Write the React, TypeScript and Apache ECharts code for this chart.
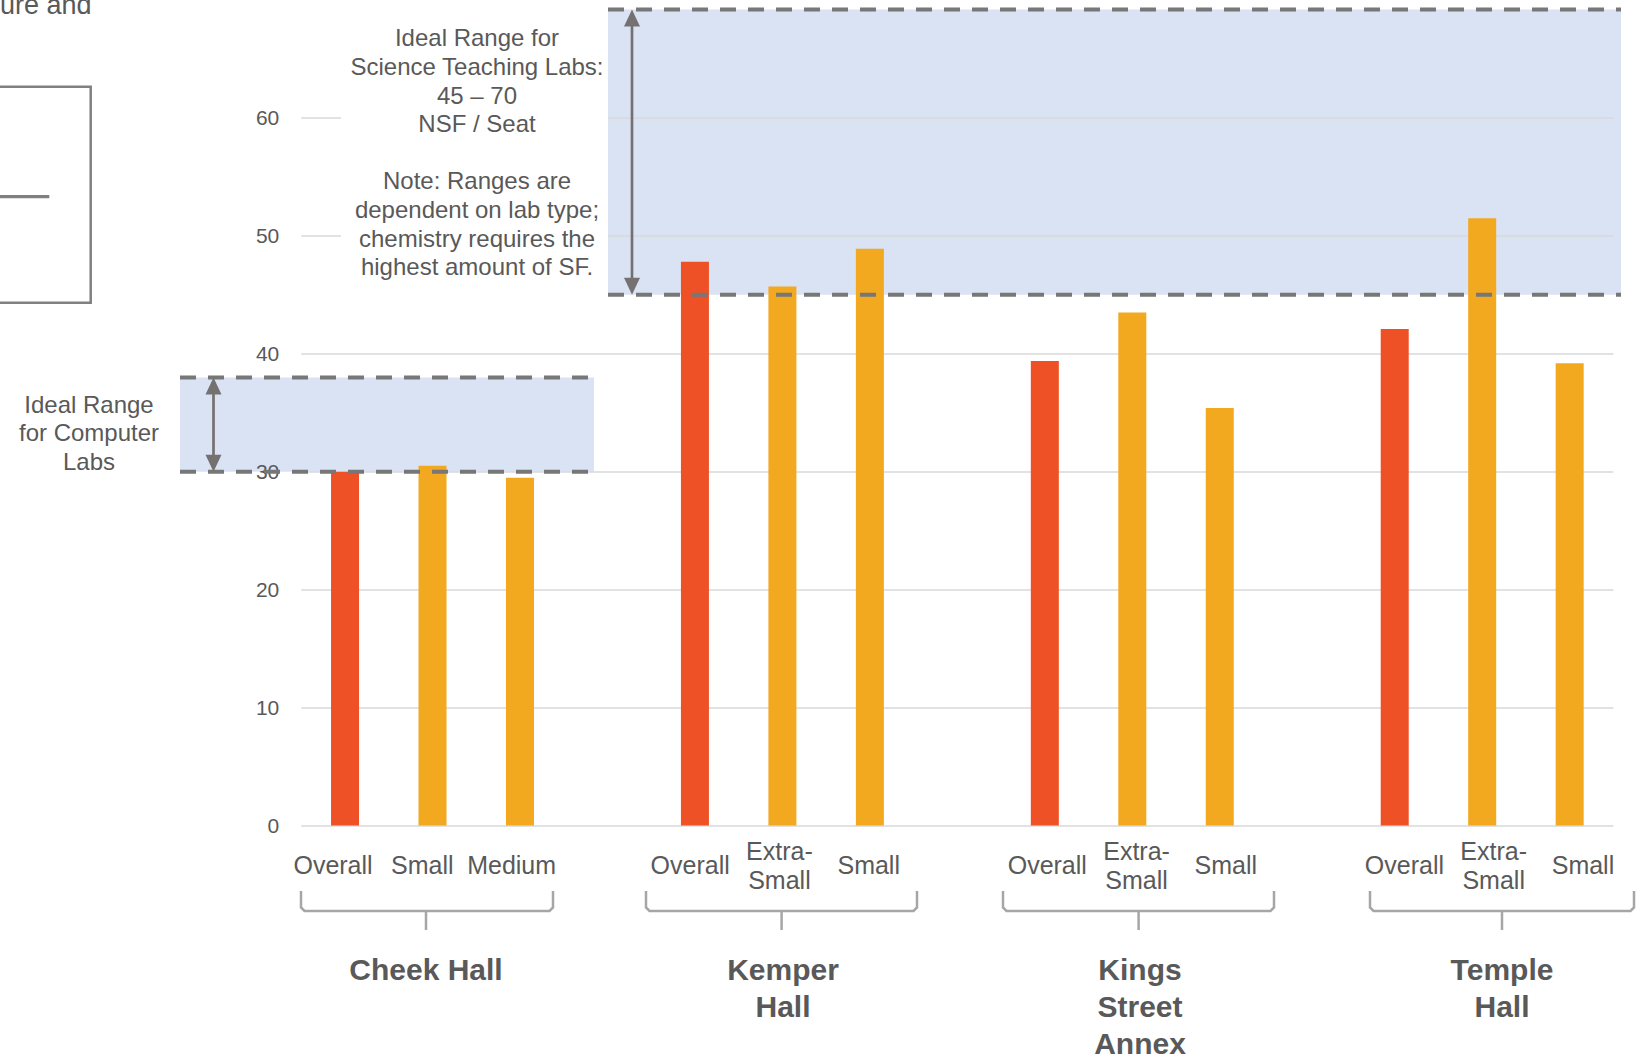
import React, { useEffect, useRef } from "react";
import * as echarts from "echarts";

// ---- data -------------------------------------------------------------
// Lab rooms per building; empty strings are spacer slots between buildings.
const labRooms = [
  "Overall", "Small", "Medium", "",
  "Overall", "Extra-\nSmall", "Small", "",
  "Overall", "Extra-\nSmall", "Small", "",
  "Overall", "Extra-\nSmall", "Small",
];
// NSF per seat for each room type (null = spacer)
const nsfPerSeat: (number | null)[] = [
  30.0, 30.5, 29.5, null,
  47.8, 45.7, 48.9, null,
  39.4, 43.5, 35.4, null,
  42.1, 51.5, 39.2,
];
const buildings = ["Cheek Hall", "Kemper\nHall", "Kings\nStreet\nAnnex", "Temple\nHall"];

const yMin = 0;
const yMax = 70;
const yStep = 10;

// ideal ranges (NSF / seat)
const computerLabRange = [30, 38];
const scienceLabRange = [45, 69.2]; // band runs to the top edge of the plot

const scienceNote = [
  "Ideal Range for",
  "Science Teaching Labs:",
  "45 – 70",
  "NSF / Seat",
  "",
  "Note: Ranges are",
  "dependent on lab type;",
  "chemistry requires the",
  "highest amount of SF.",
];
const computerNote = ["Ideal Range", "for Computer", "Labs"];

// ---- styles -----------------------------------------------------------
const W = 1645;
const H = 1059;
const FONT = "'Liberation Sans', Arial, Helvetica, sans-serif";
const TEXT = "#595959";
const RED = "#EE5125";
const ORANGE = "#F2A81F";
const BAND = "#DAE3F3";
const DASH = "#777777";
const ARROW = "#767171";
const BRACE = "#A6A6A6";
const GRID_LINE = "#D9D9D9";

// brace geometry under each building: [left, right, centre]
const braces = [
  [301, 553, 426],
  [646, 917, 781.6],
  [1003, 1274, 1138.6],
  [1370, 1634, 1502],
];
const buildingLabelX = [426, 783, 1140, 1502];

function text(x: number, y: number, lines: string[], opts: any = {}) {
  const fontSize = opts.fontSize ?? 24;
  return {
    type: "text",
    x,
    y,
    z: opts.z ?? 6,
    silent: true,
    style: {
      text: lines.join("\n"),
      fontFamily: FONT,
      fontSize,
      fontWeight: opts.fontWeight ?? "normal",
      fill: opts.fill ?? TEXT,
      lineHeight: opts.lineHeight ?? 28.6,
      textAlign: opts.align ?? "center",
      align: opts.align ?? "center",
      textVerticalAlign: opts.vAlign ?? "top",
      verticalAlign: opts.vAlign ?? "top",
    },
  };
}

function dashed(x1: number, x2: number, y: number) {
  return {
    type: "line",
    z: 8,
    silent: true,
    shape: { x1, y1: y, x2, y2: y },
    style: { stroke: DASH, lineWidth: 4, lineDash: [16, 12] },
  };
}

function arrow(x: number, top: number, bottom: number) {
  const hw = 8;
  const hh = 17;
  return [
    {
      type: "line",
      z: 8,
      silent: true,
      shape: { x1: x, y1: top + hh - 2, x2: x, y2: bottom - hh + 2 },
      style: { stroke: ARROW, lineWidth: 2.7 },
    },
    {
      type: "polygon",
      z: 8,
      silent: true,
      shape: { points: [[x, top], [x - hw, top + hh], [x + hw, top + hh]] },
      style: { fill: ARROW },
    },
    {
      type: "polygon",
      z: 8,
      silent: true,
      shape: { points: [[x, bottom], [x - hw, bottom - hh], [x + hw, bottom - hh]] },
      style: { fill: ARROW },
    },
  ];
}

function buildGraphic(chart: any) {
  const py = (v: number) => chart.convertToPixel({ yAxisIndex: 0 }, v) as number;

  const cTop = py(computerLabRange[1]);
  const cBot = py(computerLabRange[0]);
  const sTop = py(scienceLabRange[1]);
  const sBot = py(scienceLabRange[0]);

  const cX1 = 180;
  const cX2 = 594;
  const sX1 = 608;
  const sX2 = 1621;

  const els: any[] = [
    // range bands (behind grid lines and bars)
    {
      type: "rect",
      z: -1,
      silent: true,
      shape: { x: cX1, y: cTop, width: cX2 - cX1, height: cBot - cTop },
      style: { fill: BAND },
    },
    {
      type: "rect",
      z: -1,
      silent: true,
      shape: { x: sX1, y: sTop, width: sX2 - sX1, height: sBot - sTop },
      style: { fill: BAND },
    },
    // white backing for the science note
    {
      type: "rect",
      z: 5,
      silent: true,
      shape: { x: 341, y: 18, width: sX1 - 341, height: 272 },
      style: { fill: "#ffffff" },
    },
    text(477, 23.5, scienceNote, { lineHeight: 28.6 }),
    text(89, 389.8, computerNote, { lineHeight: 28.8 }),
    dashed(cX1, cX2, cTop),
    dashed(cX1, cX2, cBot),
    dashed(sX1, sX2, sTop),
    dashed(sX1, sX2, sBot),
    ...arrow(213.5, cTop, cBot),
    ...arrow(632, sTop, sBot),
    // fragments of the neighbouring slide content on the left edge
    text(0, 4.5, ["ure and"], { fontSize: 27, align: "left", vAlign: "middle", lineHeight: 27 }),
    {
      type: "rect",
      z: 6,
      silent: true,
      shape: { x: -10, y: 86.7, width: 100.7, height: 216 },
      style: { fill: "none", stroke: "#808080", lineWidth: 2.5 },
    },
    {
      type: "line",
      z: 6,
      silent: true,
      shape: { x1: -5, y1: 196.7, x2: 49.3, y2: 196.7 },
      style: { stroke: "#808080", lineWidth: 3.3 },
    },
  ];

  // braces + building names
  braces.forEach(([l, r, c], i) => {
    els.push({
      type: "polyline",
      z: 6,
      silent: true,
      shape: {
        points: [
          [l, 891], [l, 907.5], [l + 3.5, 911], [r - 3.5, 911], [r, 907.5], [r, 891],
        ],
      },
      style: { stroke: BRACE, lineWidth: 2.5, fill: "none" },
    });
    els.push({
      type: "line",
      z: 6,
      silent: true,
      shape: { x1: c, y1: 911, x2: c, y2: 930 },
      style: { stroke: BRACE, lineWidth: 2.5 },
    });
    els.push(
      text(buildingLabelX[i], 951.7, buildings[i].split("\n"), {
        fontSize: 30,
        fontWeight: "bold",
        lineHeight: 36.6,
      })
    );
  });

  return els;
}

export default function App() {
  const ref = useRef<HTMLDivElement>(null);

  useEffect(() => {
    if (!ref.current) return;
    const chart = echarts.init(ref.current, null, { renderer: "svg" });

    const barData = nsfPerSeat.map((v, i) =>
      v == null
        ? "-"
        : { value: v, itemStyle: { color: labRooms[i] === "Overall" ? RED : ORANGE } }
    );

    chart.setOption({
      animation: false,
      backgroundColor: "#ffffff",
      textStyle: { fontFamily: FONT },
      grid: [
        { left: 301.3, right: 31.6, top: -0.5, bottom: 233.4, containLabel: false },
        { left: 288.4, right: 17.4, top: -0.5, bottom: 233.4, containLabel: false },
      ],
      xAxis: [
        {
          type: "category",
          gridIndex: 0,
          data: labRooms,
          axisLine: { show: false },
          axisTick: { show: false },
          axisLabel: { show: false },
          splitLine: { show: false },
        },
        {
          type: "category",
          gridIndex: 1,
          data: labRooms,
          axisLine: { show: false },
          axisTick: { show: false },
          splitLine: { show: false },
          axisLabel: {
            interval: 0,
            color: TEXT,
            fontFamily: FONT,
            fontSize: 25,
            lineHeight: 29,
            margin: 39.5,
            verticalAlign: "middle",
          },
        },
      ],
      yAxis: [
        {
          type: "value",
          gridIndex: 0,
          min: yMin,
          max: yMax,
          interval: yStep,
          axisLine: { show: false },
          axisTick: { show: false },
          axisLabel: {
            color: TEXT,
            fontFamily: FONT,
            fontSize: 21,
            margin: 22,
            formatter: (v: number) => (v === yMax ? "" : String(v)),
          },
          splitLine: { showMaxLine: false, lineStyle: { color: GRID_LINE, width: 1.5 } },
        },
        { type: "value", gridIndex: 1, min: 0, max: 1, show: false },
      ],
      series: [
        {
          type: "bar",
          xAxisIndex: 0,
          yAxisIndex: 0,
          barWidth: 28,
          data: barData,
          z: 2,
        },
        {
          type: "bar",
          xAxisIndex: 1,
          yAxisIndex: 1,
          data: labRooms.map(() => "-"),
          silent: true,
        },
      ],
    });

    chart.setOption({ graphic: { elements: buildGraphic(chart) } });

    return () => chart.dispose();
  }, []);

  return (
    <div
      ref={ref}
      style={{ position: "absolute", left: 0, top: 0, width: W, height: H, background: "#fff" }}
    />
  );
}
